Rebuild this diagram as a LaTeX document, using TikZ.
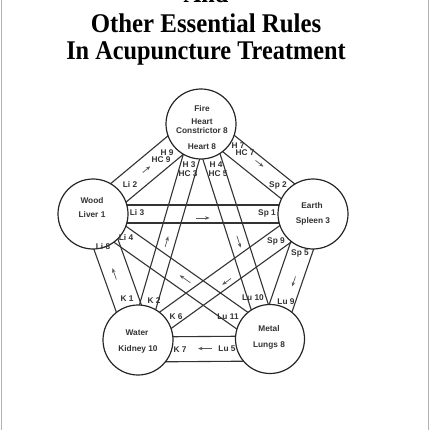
\documentclass[tikz,border=0pt]{standalone}
\usepackage{fontspec}
\setmainfont{Liberation Serif}
\newfontfamily\labfont{Liberation Sans}
\usetikzlibrary{calc,arrows.meta,backgrounds}
\newcommand\bandP[3]{\draw[bl] ($(#1)!#3pt!90:(#2)$) -- ($(#2)!#3pt!-90:(#1)$);}
\newcommand\bandM[3]{\draw[bl] ($(#1)!#3pt!-90:(#2)$) -- ($(#2)!#3pt!90:(#1)$);}
\begin{document}
\begin{tikzpicture}[x=1pt,y=-1pt,
  elem/.style={circle,draw=black!85,line width=1.2pt,fill=white,minimum size=70pt,inner sep=0pt},
  bl/.style={draw=black!80,line width=1.1pt},
  txt/.style={font=\labfont\bfseries\fontsize{8.3}{9}\selectfont,inner sep=0pt,text=black!80},
  arr/.style={-{Stealth[length=4.5pt,width=3.5pt]},line width=0.7pt,draw=black!65},
  ttl/.style={font=\fontsize{27}{30}\selectfont\bfseries,anchor=base,inner sep=0pt}]
\useasboundingbox (0,0) rectangle (430,430);
\begin{scope}
\clip (0,0) rectangle (430,430);
\node[ttl] (t0) at (206,3) {\scalebox{0.9}[1]{And}};
\node[ttl] (t1) at (206,33) {\scalebox{0.92}[1]{Other Essential Rules}};
\node[ttl] (t2) at (206,60) {\scalebox{0.9}[1]{In Acupuncture Treatment}};
\end{scope}
\draw[black!30,line width=1pt] (1.5,0) -- (1.5,430);
\draw[black!30,line width=1pt] (428.5,0) -- (428.5,430);

\node[elem] (fire) at (201,124) {};
\node[elem] (wood) at (93,214) {};
\node[elem] (earth) at (313,214) {};
\node[elem] (water) at (138,340) {};
\node[elem,minimum size=69pt] (metal) at (270,339) {};

\begin{scope}[on background layer]
\bandP{wood}{fire}{12}\bandM{wood}{fire}{12}
\bandP{fire}{earth}{12}\bandM{fire}{earth}{8}
\bandP{wood}{earth}{9}\bandM{wood}{earth}{9}
\bandP{fire}{water}{8.5}\bandM{fire}{water}{8.5}
\bandP{fire}{metal}{9}\bandM{fire}{metal}{9}
\bandP{wood}{water}{15}\bandM{wood}{water}{11}
\bandP{wood}{metal}{9}\bandM{wood}{metal}{11}
\bandP{earth}{water}{10}\bandM{earth}{water}{10}
\bandP{earth}{metal}{12}\bandM{earth}{metal}{12}
\bandP{water}{metal}{3}\bandM{water}{metal}{22}
\end{scope}

\node[txt] (fireA) at (202,109) {Fire};
\node[txt] (fireB) at (202,122) {Heart};
\node[txt] (fireC) at (202,131) {Constrictor 8};
\node[txt] (fireD) at (202,147) {Heart 8};
\node[txt] (woodA) at (92,201) {Wood};
\node[txt] (woodB) at (92,215) {Liver 1};
\node[txt] (earthA) at (312,206) {Earth};
\node[txt] (earthB) at (313,221) {Spleen 3};
\node[txt] (waterA) at (137,333) {Water};
\node[txt] (waterB) at (138,349) {Kidney 10};
\node[txt] (metalA) at (269,329) {Metal};
\node[txt] (metalB) at (269,345) {Lungs 8};

\node[txt] (h9) at (167,153) {H 9};
\node[txt] (hc9) at (161,160) {HC 9};
\node[txt] (h7) at (238,146) {H 7};
\node[txt] (hc7) at (245,153) {HC 7};
\node[txt] (h3) at (189,165) {H 3};
\node[txt] (hc3) at (188,174) {HC 3};
\node[txt] (h4) at (216,165) {H 4};
\node[txt] (hc5) at (218,174) {HC 5};
\node[txt] (sp2) at (278,185) {Sp 2};
\node[txt] (sp1) at (267,213) {Sp 1};
\node[txt] (sp9) at (276,241) {Sp 9};
\node[txt] (sp5) at (300,253) {Sp 5};
\node[txt] (li2) at (130,184) {Li 2};
\node[txt] (li3) at (137,213) {Li 3};
\node[txt] (li4) at (126,237) {Li 4};
\node[txt] (li8) at (103,247) {Li 8};
\node[txt] (k1) at (127,299) {K 1};
\node[txt] (k2) at (154,301) {K 2};
\node[txt] (k6) at (176,317) {K 6};
\node[txt] (k7) at (180,350) {K 7};
\node[txt] (lu5) at (227,349) {Lu 5};
\node[txt] (lu11) at (228,317) {Lu 11};
\node[txt] (lu10) at (253,298) {Lu 10};
\node[txt] (lu9) at (286,302) {Lu 9};

\draw[arr] ($(wood)!0.46!(fire)$) -- ($(wood)!0.53!(fire)$);
\draw[arr] ($(fire)!0.46!(earth)+(3,-5)$) -- ($(fire)!0.53!(earth)+(3,-5)$);
\draw[arr] ($(wood)!0.47!(earth)+(0,4)$) -- ($(wood)!0.53!(earth)+(0,4)$);
\draw[arr] ($(water)!0.43!(fire)$) -- ($(water)!0.48!(fire)$);
\draw[arr] ($(fire)!0.52!(metal)$) -- ($(fire)!0.575!(metal)$);
\draw[arr] ($(water)!0.48!(wood)$) -- ($(water)!0.57!(wood)$);
\draw[arr] ($(metal)!0.45!(wood)$) -- ($(metal)!0.51!(wood)$);
\draw[arr] ($(earth)!0.48!(water)+(2,4)$) -- ($(earth)!0.53!(water)+(2,4)$);
\draw[arr] ($(earth)!0.5!(metal)+(4,0)$) -- ($(earth)!0.58!(metal)+(4,0)$);
\draw[arr] ($(metal)!0.44!(water)+(0,9)$) -- ($(metal)!0.545!(water)+(0,9)$);
\end{tikzpicture}
\end{document}
